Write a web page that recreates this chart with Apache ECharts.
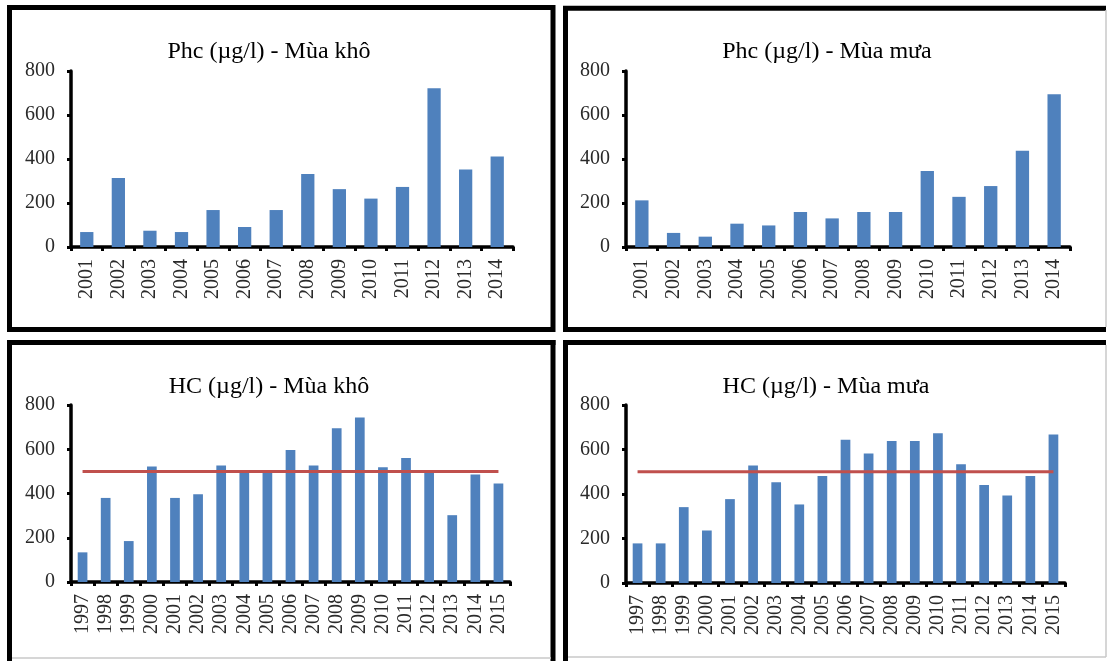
<!DOCTYPE html>
<html>
<head>
<meta charset="utf-8">
<script src="https://cdn.jsdelivr.net/npm/echarts@6/dist/echarts.min.js"></script>
<style>
  html, body { margin: 0; padding: 0; background: #ffffff; }
  #chart { width: 1108px; height: 661px; }
</style>
</head>
<body>
<div id="chart"></div>
<script>
// Years on the category axes
var yearsPhc = ['2001','2002','2003','2004','2005','2006','2007','2008','2009','2010','2011','2012','2013','2014'];
var yearsHc = ['1997','1998','1999','2000','2001','2002','2003','2004','2005','2006','2007','2008','2009','2010','2011','2012','2013','2014','2015'];

// Phc concentrations (µg/l)
var phcDry = [68, 314, 74, 68, 168, 91, 168, 332, 263, 220, 273, 722, 352, 411];
var phcWet = [212, 64, 47, 106, 98, 159, 130, 159, 159, 346, 228, 277, 437, 694];

// HC concentrations (µg/l)
var hcDry = [134, 380, 185, 522, 380, 397, 526, 495, 495, 597, 526, 695, 744, 519, 561, 495, 302, 486, 445];
var hcWet = [178, 178, 341, 236, 377, 528, 453, 353, 481, 644, 582, 638, 638, 673, 534, 441, 393, 481, 667];

// Limit value drawn as a red line over the HC charts
var hcLimit = [500, 500, 500, 500, 500, 500, 500, 500, 500, 500, 500, 500, 500, 500, 500, 500, 500, 500, 500];

// Y axis range and step
var yMin = 0, yMax = 800, yStep = 200;

var titles = ['Phc (µg/l) - Mùa khô', 'Phc (µg/l) - Mùa mưa', 'HC (µg/l) - Mùa khô', 'HC (µg/l) - Mùa mưa'];

var BAR = '#4F81BD';
var RED = '#C0504D';
var SERIF = '"Liberation Serif", "Times New Roman", serif';
var LABEL = '#2a2a2a';

var grids = [
  { left: 71, top: 71, width: 442, height: 176 },
  { left: 626, top: 71, width: 444, height: 176 },
  { left: 71, top: 405, width: 439, height: 177 },
  { left: 626, top: 405, width: 439, height: 178 }
];

var titlePos = [
  { x: 264, y: 35 },
  { x: 822, y: 35 },
  { x: 264, y: 370 },
  { x: 821, y: 370 }
];

var catSets = [yearsPhc, yearsPhc, yearsHc, yearsHc];

function xAxisFor(i) {
  return {
    type: 'category',
    gridIndex: i,
    data: catSets[i],
    boundaryGap: true,
    axisLine: { show: true, lineStyle: { color: '#000', width: 3.5 } },
    axisTick: { show: true, length: 4, lineStyle: { color: '#000', width: 3 } },
    axisLabel: {
      rotate: 90, interval: 0, margin: 12,
      fontFamily: SERIF, fontSize: 20, color: LABEL
    },
    splitLine: { show: false }
  };
}

function yAxisFor(i) {
  return {
    type: 'value',
    gridIndex: i,
    min: yMin, max: yMax, interval: yStep,
    axisLine: { show: true, lineStyle: { color: '#000', width: 3.5 } },
    axisTick: { show: true, length: 4, lineStyle: { color: '#000', width: 3 } },
    axisLabel: { margin: 16, fontFamily: SERIF, fontSize: 20, color: LABEL },
    splitLine: { show: false }
  };
}

var valueSets = [phcDry, phcWet, hcDry, hcWet];

var series = [];
valueSets.forEach(function (vals, i) {
  series.push({
    type: 'bar',
    xAxisIndex: i, yAxisIndex: i,
    data: vals,
    barCategoryGap: '58%',
    itemStyle: { color: BAR },
    silent: true
  });
});
[2, 3].forEach(function (i) {
  series.push({
    type: 'line',
    xAxisIndex: i, yAxisIndex: i,
    data: hcLimit,
    symbol: 'none',
    lineStyle: { color: RED, width: 3 },
    z: 5,
    silent: true
  });
});

// Panel frames
var BLK = '#000';
var GRY = '#c8c8c8';
function seg(x1, y1, x2, y2, color, w) {
  return { type: 'line', shape: { x1: x1, y1: y1, x2: x2, y2: y2 }, style: { stroke: color, lineWidth: w }, silent: true };
}
var frames = [
  // top-left panel
  { type: 'rect', shape: { x: 9.5, y: 7.5, width: 543.5, height: 322 }, style: { fill: 'none', stroke: BLK, lineWidth: 5 }, silent: true },
  // top-right panel
  seg(563, 8.3, 1106, 8.3, BLK, 5),
  seg(565.5, 6, 565.5, 332, BLK, 5),
  seg(563, 329.5, 1106, 329.5, BLK, 5),
  seg(1106, 10, 1106, 327, GRY, 1.5),
  // bottom-left panel
  seg(7, 342.5, 555.5, 342.5, BLK, 5),
  seg(9.5, 340, 9.5, 661, BLK, 5),
  seg(553, 340, 553, 661, BLK, 5),
  seg(12, 658, 551, 658, GRY, 1.5),
  // bottom-right panel
  seg(563, 342.5, 1106, 342.5, BLK, 5),
  seg(565.5, 340, 565.5, 661, BLK, 5),
  seg(1106, 345, 1106, 657, GRY, 1.5),
  seg(568, 657, 1106, 657, GRY, 1.5)
];

var option = {
  animation: false,
  backgroundColor: '#ffffff',
  title: titles.map(function (t, i) {
    return {
      text: t,
      left: titlePos[i].x,
      top: titlePos[i].y,
      textAlign: 'center',
      textStyle: { fontFamily: SERIF, fontSize: 24, fontWeight: 'normal', color: '#000' }
    };
  }),
  grid: grids,
  xAxis: [0, 1, 2, 3].map(xAxisFor),
  yAxis: [0, 1, 2, 3].map(yAxisFor),
  series: series,
  graphic: frames
};

var chart = echarts.init(document.getElementById('chart'), null, { renderer: 'canvas' });
chart.setOption(option);
</script>
</body>
</html>
